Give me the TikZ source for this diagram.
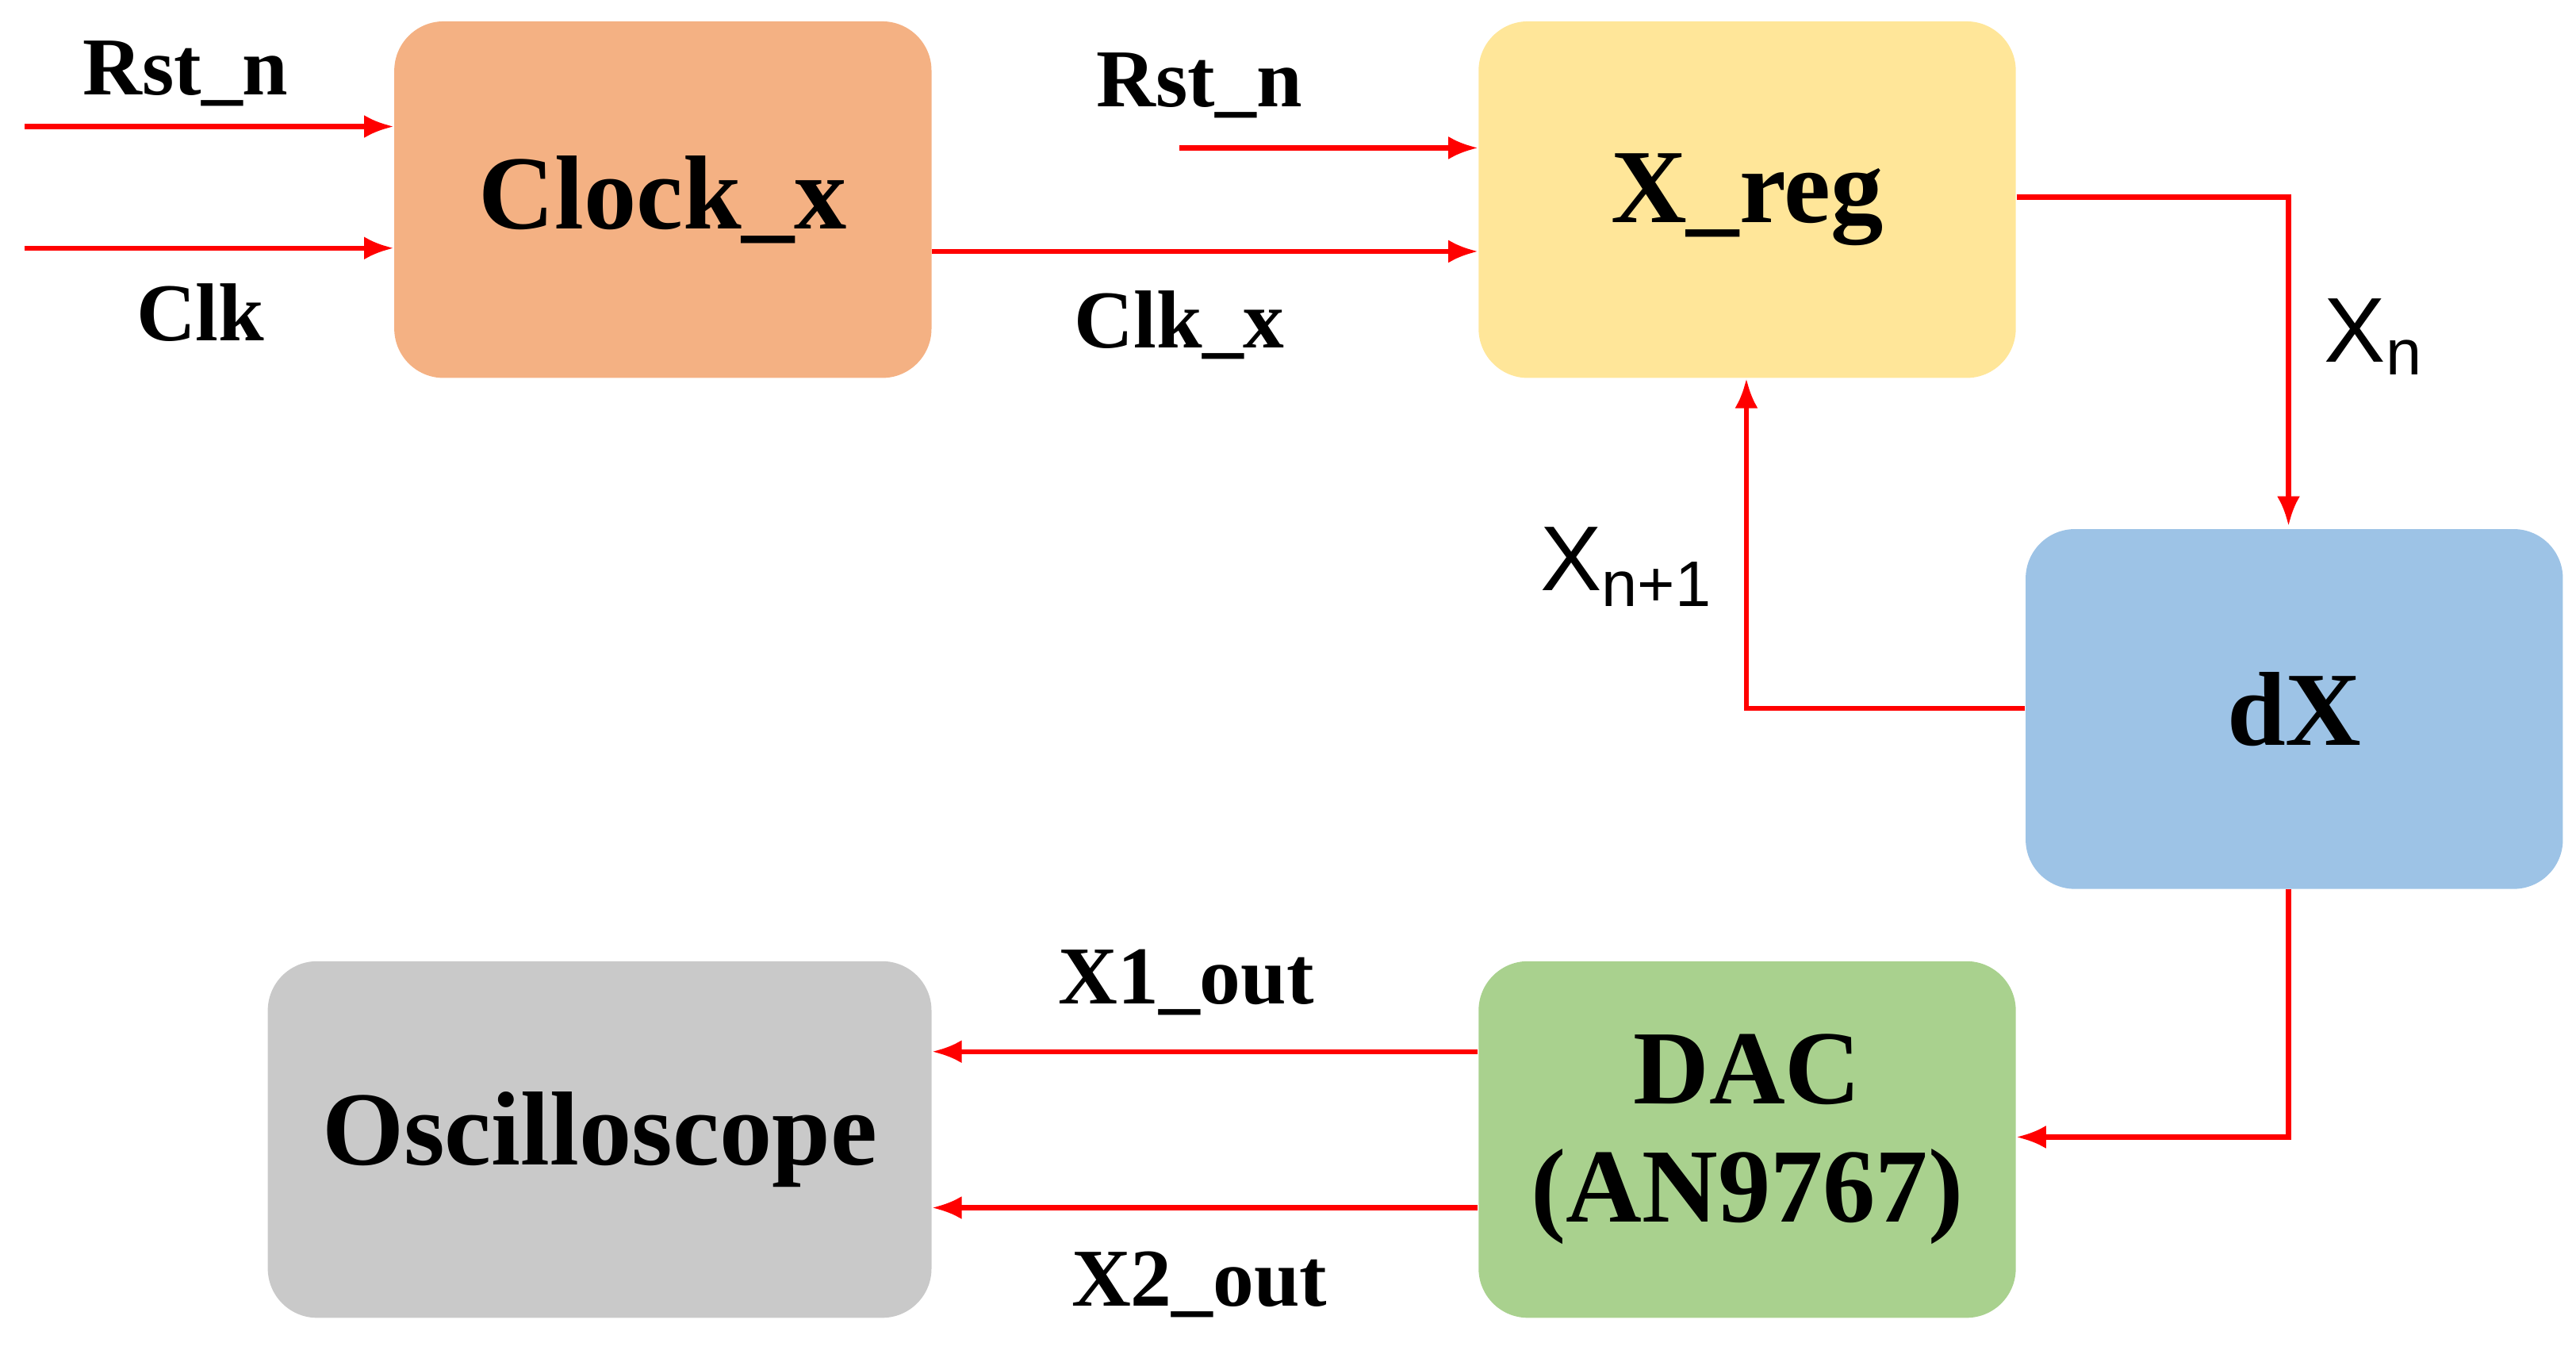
\documentclass[tikz,border=0pt]{standalone}
\usepackage{fontspec}
\setmainfont{Liberation Serif}
\newfontfamily\sansf{Liberation Sans}
\usetikzlibrary{arrows.meta}
\begin{document}
\begin{tikzpicture}[x=0.5pt,y=-0.5pt,
  blk/.style={draw=none,rounded corners=15pt,inner sep=0pt,font=\fontsize{32}{36}\selectfont\bfseries,align=center},
  sig/.style={draw=red,line width=1.5pt,-{Latex[length=9pt,width=7pt]}},
  lab/.style={font=\fontsize{25}{28}\selectfont\bfseries},
  slab/.style={font=\sansf\fontsize{28}{30}\selectfont}]
\useasboundingbox (0,0) rectangle (1568,826);
\node[blk,fill={rgb,255:red,244;green,177;blue,131},minimum width=163.5pt,minimum height=108.5pt] (clk) at (403.5,121.5) {Clock\_x};
\node[blk,fill={rgb,255:red,255;green,230;blue,153},minimum width=163.5pt,minimum height=108.5pt] (xreg) at (1063.5,121.5) {X\_reg};
\node[blk,fill={rgb,255:red,157;green,195;blue,230},minimum width=163.5pt,minimum height=109.5pt] (dx) at (1396.5,431.5) {dX};
\node[blk,fill={rgb,255:red,169;green,209;blue,142},minimum width=163.5pt,minimum height=108.5pt] (dac) at (1063.5,693.5) {DAC\\(AN9767)};
\node[blk,fill={rgb,255:red,201;green,201;blue,201},minimum width=202pt,minimum height=108.5pt] (osc) at (365,693.5) {Oscilloscope};
\coordinate (r1) at (15,77);
\coordinate (c1) at (15,151);
\coordinate (r2) at (718,90);
\draw[sig] (r1) -- (r1 -| clk.west);
\draw[sig] (c1) -- (c1 -| clk.west);
\draw[sig] (clk.east |- 0,153) -- (xreg.west |- 0,153);
\draw[sig] (r2) -- (r2 -| xreg.west);
\draw[sig] (xreg.east |- 0,120) -- (1393,120) -- (1393,320);
\draw[sig] (dx.west |- 0,431) -- (1063,431) -- (xreg.south -| 1063,0);
\draw[sig] (1393,541) -- (1393,692) -- (dac.east |- 0,692);
\draw[sig] (dac.west |- 0,640) -- (osc.east |- 0,640);
\draw[sig] (dac.west |- 0,735) -- (osc.east |- 0,735);
\node[lab] (l1) at (113,45) {Rst\_n};
\node[lab] (l2) at (122,190) {Clk};
\node[lab] (l3) at (730,52) {Rst\_n};
\node[lab] (l4) at (718,198) {Clk\_x};
\node[lab] (l5) at (722,598) {X1\_out};
\node[lab] (l6) at (730,782) {X2\_out};
\node[slab] (l7) at (1445,205) {X\textsubscript{n}};
\node[slab] (l8) at (990,345) {X\textsubscript{n+1}};
\end{tikzpicture}
\end{document}
